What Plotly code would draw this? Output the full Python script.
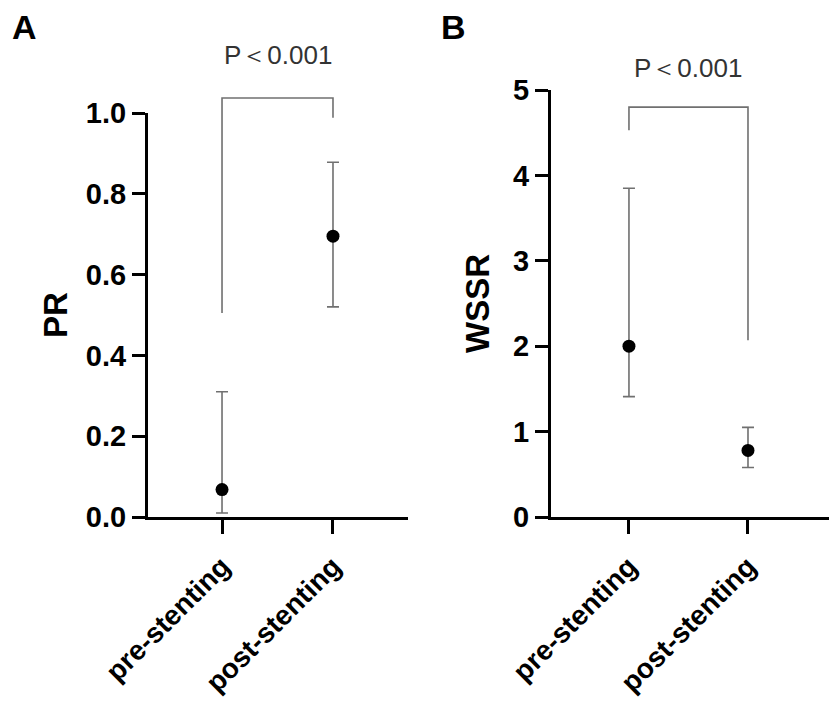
import plotly.graph_objects as go

W, H = 837, 717

categories = ["pre-stenting", "post-stenting"]

# Panel A: PR
pr_mean = [0.068, 0.695]
pr_low = [0.010, 0.520]
pr_high = [0.310, 0.878]
pr_bracket = [0.505, 1.037, 1.037, 0.988]
pr_p_y = 1.143

# Panel B: WSSR
wssr_mean = [2.00, 0.78]
wssr_low = [1.41, 0.58]
wssr_high = [3.85, 1.05]
wssr_bracket = [4.53, 4.80, 4.80, 2.07]
wssr_p_y = 5.26

p_text = "P＜0.001"
FONT = "Arial, Liberation Sans, sans-serif"

# layout geometry in screen pixels (page body has an 8px margin)
OFF = 8
BOT = 517
A_TOP, B_TOP, EXT_TOP = 113, 90, 20
A_X0, A_X1 = 148, 408
B_X0, B_X1 = 551, 830


def fx(px):
    return (px - OFF) / W


def fy(py):
    return (H - (py - OFF)) / H


fig = go.Figure()


def add_panel(mean, low, high, bracket, xa, ya, ya_ext):
    idx = list(range(len(categories)))
    fig.add_trace(go.Scatter(
        x=[idx[0], idx[0], idx[1], idx[1]], y=bracket, mode="lines",
        line=dict(color="#707070", width=1.6),
        xaxis=xa, yaxis=ya_ext, showlegend=False,
    ))
    fig.add_trace(go.Scatter(
        x=idx, y=mean, mode="markers",
        marker=dict(size=13, color="black"),
        error_y=dict(type="data", symmetric=False,
                     array=[h - m for h, m in zip(high, mean)],
                     arrayminus=[m - l for m, l in zip(mean, low)],
                     color="#707070", thickness=1.6, width=6),
        xaxis=xa, yaxis=ya, cliponaxis=False, showlegend=False,
    ))


add_panel(pr_mean, pr_low, pr_high, pr_bracket, "x", "y", "y3")
add_panel(wssr_mean, wssr_low, wssr_high, wssr_bracket, "x2", "y2", "y4")

axis_common = dict(showgrid=False, zeroline=False, showline=True, automargin=False,
                   linecolor="black", linewidth=3, ticks="outside",
                   tickcolor="black", tickwidth=3)

xtickfont = dict(size=28, family=FONT, weight="bold", color="black")
ytickfont = dict(size=29, family=FONT, weight="bold", color="black")
titlefont = dict(size=33, family=FONT, weight="bold", color="black")

a_scale = (BOT - A_TOP) / 1.0      # px per unit
b_scale = (BOT - B_TOP) / 5.0
ext_dom = [fy(BOT), fy(EXT_TOP)]

fig.update_layout(
    width=W, height=H, margin=dict(l=0, r=0, t=0, b=0),
    plot_bgcolor="rgba(0,0,0,0)", paper_bgcolor="white",
    font=dict(family=FONT, color="black"),
    xaxis=dict(**axis_common, domain=[fx(A_X0), fx(A_X1)], range=[-0.667, 1.676],
               tickvals=[0, 1], ticktext=categories, ticklen=14, tickangle=-45,
               ticklabelstandoff=5, tickfont=xtickfont, anchor="y"),
    yaxis=dict(**axis_common, domain=[fy(BOT), fy(A_TOP)], range=[0, 1],
               tickvals=[0, 0.2, 0.4, 0.6, 0.8, 1.0], tickformat=".1f", ticklen=13,
               tickfont=ytickfont, anchor="x",
               title=dict(text="PR", font=titlefont, standoff=9)),
    yaxis3=dict(domain=ext_dom, range=[0, (BOT - EXT_TOP) / a_scale], visible=False,
                anchor="x", automargin=False),
    xaxis2=dict(**axis_common, domain=[fx(B_X0), fx(B_X1)], range=[-0.655, 1.689],
                tickvals=[0, 1], ticktext=categories, ticklen=14, tickangle=-45,
                ticklabelstandoff=5, tickfont=xtickfont, anchor="y2"),
    yaxis2=dict(**axis_common, domain=[fy(BOT), fy(B_TOP)], range=[0, 5],
                tickvals=[0, 1, 2, 3, 4, 5], ticklen=13,
                tickfont=ytickfont, anchor="x2",
                title=dict(text="WSSR", font=titlefont, standoff=14)),
    yaxis4=dict(domain=ext_dom, range=[0, (BOT - EXT_TOP) / b_scale], visible=False,
                anchor="x2", automargin=False),
)

fig.add_annotation(x=0.5, y=pr_p_y, xref="x", yref="y3", text=p_text, showarrow=False,
                   font=dict(size=26, family=FONT, color="#333333"), yanchor="middle")
fig.add_annotation(x=0.5, y=wssr_p_y, xref="x2", yref="y4", text=p_text, showarrow=False,
                   font=dict(size=26, family=FONT, color="#333333"), yanchor="middle")

fig.add_annotation(x=fx(10), y=fy(27), xref="paper", yref="paper", text="A",
                   showarrow=False, xanchor="left", yanchor="middle",
                   font=dict(size=34, family=FONT, weight="bold"))
fig.add_annotation(x=fx(439), y=fy(27), xref="paper", yref="paper", text="B",
                   showarrow=False, xanchor="left", yanchor="middle",
                   font=dict(size=34, family=FONT, weight="bold"))

fig.write_html("out.html")
